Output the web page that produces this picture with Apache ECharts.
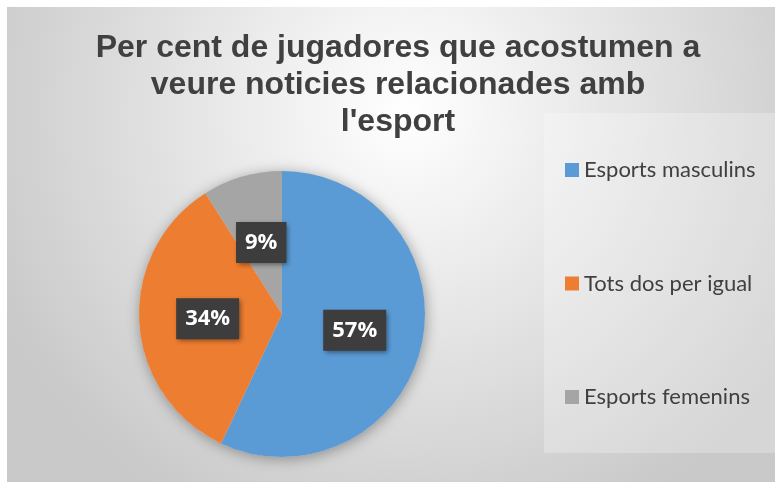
<!DOCTYPE html>
<html>
<head>
<meta charset="utf-8">
<script src="https://cdn.jsdelivr.net/npm/echarts@6/dist/echarts.min.js"></script>
<style>
  html, body { margin: 0; padding: 0; background: #fff; }
  #chart { position: absolute; left: 7px; top: 7px; width: 768px; height: 475px; }
</style>
</head>
<body>
<div id="chart"></div>
<script>
const titleText = "Per cent de jugadores que acostumen a\nveure noticies relacionades amb\nl'esport";
const categories = ['Esports masculins', 'Tots dos per igual', 'Esports femenins'];
const values = [57, 34, 9];
const colors = ['#5b9bd5', '#ed7d31', '#a5a5a5'];

const chart = echarts.init(document.getElementById('chart'));

const option = {
  animation: false,
  backgroundColor: {
    type: 'radial', x: 0.52, y: 0.22, r: 0.95,
    colorStops: [
      { offset: 0, color: '#ffffff' },
      { offset: 1, color: '#c9c9c9' }
    ]
  },
  title: {
    text: titleText,
    left: 391,
    top: 23,
    padding: 0,
    textAlign: 'center',
    textStyle: {
      fontFamily: 'Liberation Sans',
      fontWeight: 'bold',
      fontSize: 32,
      lineHeight: 37,
      color: '#404040'
    }
  },
  graphic: [{
    type: 'rect',
    z: -1,
    silent: true,
    shape: { x: 537, y: 106, width: 231, height: 340 },
    style: { fill: 'rgba(255,255,255,0.25)' }
  }],
  legend: {
    orient: 'vertical',
    left: 558,
    top: 152,
    padding: 0,
    icon: 'rect',
    itemWidth: 14,
    itemHeight: 14,
    itemGap: 91.5,
    data: categories,
    textStyle: {
      fontFamily: 'Lato',
      fontSize: 22,
      lineHeight: 22,
      color: '#404040'
    }
  },
  series: [
    {
      // soft shadow under the pie
      type: 'pie',
      silent: true,
      center: [275, 307],
      radius: 143,
      z: 1,
      label: { show: false },
      labelLine: { show: false },
      itemStyle: {
        color: '#d8d8d8',
        shadowBlur: 14,
        shadowColor: 'rgba(0,0,0,0.35)',
        shadowOffsetX: 1,
        shadowOffsetY: 2
      },
      data: [{ value: 1, name: '' }]
    },
    {
      type: 'pie',
      center: [275, 307],
      radius: 143,
      startAngle: 90,
      clockwise: true,
      z: 2,
      itemStyle: { borderWidth: 0 },
      label: {
        show: true,
        position: 'inside',
        formatter: '{d}%',
        fontFamily: 'Open Sans',
        fontWeight: 'bold',
        fontSize: 22,
        lineHeight: 25,
        color: '#ffffff',
        backgroundColor: '#3d3d3d',
        padding: [8, 9],
        shadowColor: 'rgba(0,0,0,0.45)',
        shadowBlur: 5,
        shadowOffsetX: 2,
        shadowOffsetY: 2
      },
      labelLine: { show: false },
      data: categories.map((name, i) => ({
        name: name,
        value: values[i],
        itemStyle: { color: colors[i] }
      }))
    }
  ]
};

option && chart.setOption(option);
</script>
</body>
</html>
